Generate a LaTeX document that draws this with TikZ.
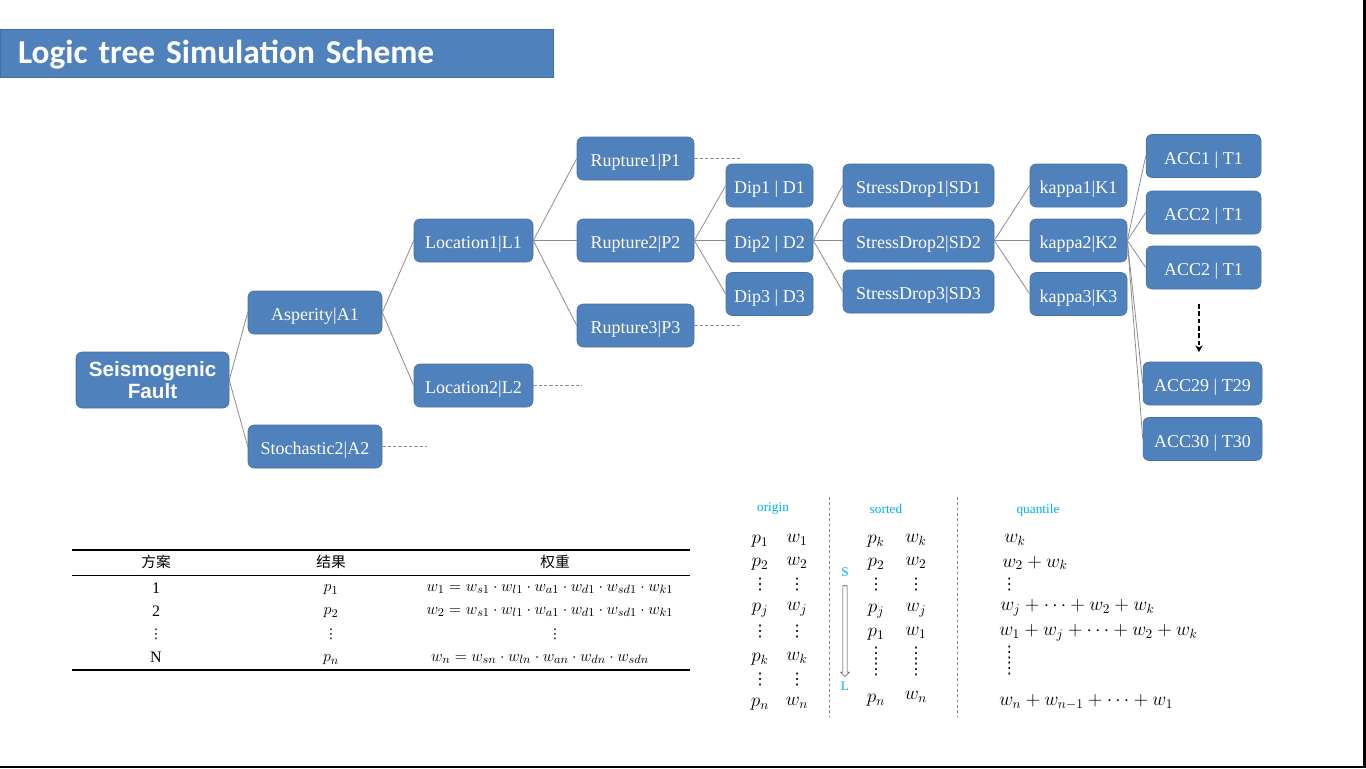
\documentclass[tikz,border=0pt]{standalone}
\usepackage{amsmath}
\usepackage{fontspec}
\setmainfont{Liberation Serif}
\newfontfamily\titlefont{Carlito}
\newfontfamily\rootfont{Liberation Sans}
\newfontfamily\cjk{Noto Sans CJK SC}
\newfontfamily\symfont{DejaVu Sans}
\usetikzlibrary{arrows.meta, positioning, shapes.arrows}
\definecolor{boxblue}{HTML}{4F81BD}
\definecolor{boxline}{HTML}{41719C}
\definecolor{linegray}{HTML}{8C8C8C}
\definecolor{labelblue}{HTML}{00B0F0}

\begin{document}
\begin{tikzpicture}[x=0.75pt,y=-0.75pt,>={Stealth},
        boxbase/.style={draw=boxline,fill=boxblue,rounded corners=4.5pt,text=white,
          font=\fontsize{13.5}{16}\selectfont,minimum height=32.25pt,inner sep=0pt},
        box/.style={boxbase,text height=12.3pt,text depth=0pt},
        branch/.style={draw=linegray,line width=0.6pt},
        stub/.style={draw=linegray,line width=0.6pt,dash pattern=on 2.5pt off 1.5pt},
        cell/.style={font=\fontsize{13}{15}\selectfont,inner sep=0pt},
        entry/.style={font=\fontsize{14}{16}\selectfont,inner sep=0pt},
        vdot/.style={font=\symfont\fontsize{12}{14}\selectfont,inner sep=0pt},
        tag/.style={text=labelblue,font=\fontsize{10}{12}\selectfont,inner sep=0pt},
        sep/.style={draw=gray,line width=0.6pt,dash pattern=on 2pt off 2pt}]

      \useasboundingbox (0,0) rectangle (1366,768);

      \node[draw=boxline,fill=boxblue,minimum width=414.75pt,minimum height=36pt,
            text width=387.75pt,align=left,inner xsep=13.5pt,text=white,
            text height=15pt,text depth=0pt,
            font=\titlefont\bfseries\fontsize{25}{29}\selectfont] (title) at (276.5,53)
            {Logic tree Simulation Scheme};

      \node[boxbase,minimum width=114.75pt,minimum height=42pt,align=center,
            font=\rootfont\bfseries\fontsize{15.5}{16.5}\selectfont] (fault) at (152.5,380) {Seismogenic\\Fault};
      \node[box,minimum width=100.5pt] (a_1) at (315,312.5) {Asperity|A1};
      \node[box,minimum width=100.5pt] (a_2) at (315,446.5) {Stochastic2|A2};
      \node[box,minimum width=89.25pt] (l_1) at (473.5,240.5) {Location1|L1};
      \node[box,minimum width=89.25pt] (l_2) at (473.5,385.5) {Location2|L2};
      \node[box,minimum width=87.75pt] (p_1) at (635.5,158.5) {Rupture1|P1};
      \node[box,minimum width=87.75pt] (p_2) at (635.5,240.5) {Rupture2|P2};
      \node[box,minimum width=87.75pt] (p_3) at (635.5,325.5) {Rupture3|P3};
      \node[box,minimum width=65.25pt] (d_1) at (769.5,185.5) {Dip1 | D1};
      \node[box,minimum width=65.25pt] (d_2) at (769.5,240.5) {Dip2 | D2};
      \node[box,minimum width=65.25pt] (d_3) at (769.5,294) {Dip3 | D3};
      \node[box,minimum width=113.25pt] (sd_1) at (918.5,185.5) {StressDrop1|SD1};
      \node[box,minimum width=113.25pt] (sd_2) at (918.5,240.5) {StressDrop2|SD2};
      \node[box,minimum width=113.25pt] (sd_3) at (918.5,291.5) {StressDrop3|SD3};
      \node[box,minimum width=72.75pt] (k_1) at (1078.5,185.5) {kappa1|K1};
      \node[box,minimum width=72.75pt] (k_2) at (1078.5,240.5) {kappa2|K2};
      \node[box,minimum width=72.75pt] (k_3) at (1078.5,294) {kappa3|K3};
      \node[box,minimum width=86.25pt] (t_1) at (1203.5,156) {ACC1 | T1};
      \node[box,minimum width=86.25pt] (t_2) at (1203.5,212.5) {ACC2 | T1};
      \node[box,minimum width=86.25pt] (t_3) at (1203.5,267.5) {ACC2 | T1};
      \node[box,minimum width=89.25pt] (t_29) at (1202.5,383.5) {ACC29 | T29};
      \node[box,minimum width=89.25pt] (t_30) at (1202.5,439) {ACC30 | T30};

      \path[branch] (fault.east) edge (a_1.west) edge (a_2.west)
                (a_1.east) edge (l_1.west) edge (l_2.west)
                (l_1.east) edge (p_1.west) edge (p_2.west) edge (p_3.west)
                (p_2.east) edge (d_1.west) edge (d_2.west) edge (d_3.west)
                (d_2.east) edge (sd_1.west) edge (sd_2.west) edge (sd_3.west)
                (sd_2.east) edge (k_1.west) edge (k_2.west) edge (k_3.west)
                (k_2.east) edge (t_1.west) edge (t_2.west) edge (t_3.west)
                           edge (t_29.west) edge (t_30.west);

      \draw[stub] (p_1.east) -- +(46,0);
      \draw[stub] (p_3.east) -- +(46,0);
      \draw[stub] (l_2.east) -- +(49,0);
      \draw[stub] (a_2.east) -- +(45,0);

      \coordinate (more_top) at (1199,304);
      \coordinate (more_bot) at (1199,352);
      \draw[line width=1.8pt,dash pattern=on 3.5pt off 2pt,-{Stealth[length=5pt,width=5.5pt]}] (more_top) -- (more_bot);

      \draw[line width=1.1pt] (72,550) -- (690,550);
      \draw[line width=0.6pt] (72,575) -- (690,575);
      \draw[line width=1.1pt] (72,670) -- (690,670);
      \node[cell,font=\cjk\fontsize{11}{13}\selectfont] (h_plan) at (156,562) {方案};
      \node[cell,font=\cjk\fontsize{11}{13}\selectfont] (h_res) at (331,562) {结果};
      \node[cell,font=\cjk\fontsize{11}{13}\selectfont] (h_wt) at (555,562) {权重};
      \node[cell,font=\fontsize{12}{14}\selectfont] (r1_plan) at (156,588) {1};
      \node[cell] (r1_res) at (331,590) {$p_1$};
      \node[cell] (r1_wt) at (550,589) {$w_1 = w_{s1}\cdot w_{l1}\cdot w_{a1}\cdot w_{d1}\cdot w_{sd1}\cdot w_{k1}$};
      \node[cell,font=\fontsize{12}{14}\selectfont] (r2_plan) at (156,611) {2};
      \node[cell] (r2_res) at (331,613) {$p_2$};
      \node[cell] (r2_wt) at (550,612) {$w_2 = w_{s1}\cdot w_{l1}\cdot w_{a1}\cdot w_{d1}\cdot w_{sd1}\cdot w_{k1}$};
      \node[vdot,font=\symfont\fontsize{10}{12}\selectfont] (r3_plan) at (156,634) {⋮};
      \node[vdot,font=\symfont\fontsize{10}{12}\selectfont] (r3_res) at (331,634) {⋮};
      \node[vdot,font=\symfont\fontsize{10}{12}\selectfont] (r3_wt) at (555,634) {⋮};
      \node[cell,font=\fontsize{12}{14}\selectfont] (rn_plan) at (156,657) {N};
      \node[cell] (rn_res) at (331,660) {$p_n$};
      \node[cell] (rn_wt) at (540,659) {$w_n = w_{sn}\cdot w_{ln}\cdot w_{an}\cdot w_{dn}\cdot w_{sdn}$};

      \draw[sep] (829,497) -- (829,716);
      \draw[sep] (957,497) -- (957,716);
      \node[tag] (origin) at (773,509) {origin};
      \node[tag] (sorted) at (886,509) {sorted};
      \node[tag] (quantile) at (1038,510) {quantile};

      \node[entry] (o_p1) at (760,541) {$p_1$};   \node[entry] (o_w1) at (797,540) {$w_1$};
      \node[entry] (o_p2) at (760,564) {$p_2$};   \node[entry] (o_w2) at (797,563) {$w_2$};
      \node[vdot] (o_v1) at (760,585) {⋮}; \node[vdot] (o_v2) at (797,585) {⋮};
      \node[entry] (o_pj) at (760,610) {$p_j$};   \node[entry] (o_wj) at (797,609) {$w_j$};
      \node[vdot] (o_v3) at (760,632) {⋮}; \node[vdot] (o_v4) at (797,632) {⋮};
      \node[entry] (o_pk) at (760,659) {$p_k$};   \node[entry] (o_wk) at (797,658) {$w_k$};
      \node[vdot] (o_v5) at (760,680) {⋮}; \node[vdot] (o_v6) at (797,680) {⋮};
      \node[entry] (o_pn) at (760,704) {$p_n$};   \node[entry] (o_wn) at (797,703) {$w_n$};

      \node[entry] (s_pk) at (876,541) {$p_k$};   \node[entry] (s_wk) at (916,540) {$w_k$};
      \node[entry] (s_p2) at (876,564) {$p_2$};   \node[entry] (s_w2) at (916,563) {$w_2$};
      \node[vdot] (s_v1) at (876,585) {⋮}; \node[vdot] (s_v2) at (916,585) {⋮};
      \node[entry] (s_pj) at (876,611) {$p_j$};   \node[entry] (s_wj) at (916,610) {$w_j$};
      \node[entry] (s_p1) at (876,634) {$p_1$};   \node[entry] (s_w1) at (916,633) {$w_1$};
      \node[vdot] (s_v3) at (876,654) {⋮}; \node[vdot] (s_v4) at (916,654) {⋮};
      \node[vdot] (s_v5) at (876,670) {⋮}; \node[vdot] (s_v6) at (916,670) {⋮};
      \node[entry] (s_pn) at (876,700) {$p_n$};   \node[entry] (s_wn) at (916,697) {$w_n$};

      \node[tag] (small) at (845,572) {S};
      \node[tag] (large) at (845,686) {L};
      \node[draw=gray!60!black,fill=white,single arrow,rotate=-90,minimum height=68pt,
            inner sep=1.4pt,single arrow head extend=1.6pt] (order) at (845,630) {};

      \node[entry,anchor=west] (q_1) at (1004,540) {$w_k$};
      \node[entry,anchor=west] (q_2) at (1002,563) {$w_2 + w_k$};
      \node[vdot,anchor=west] (q_3) at (1001,585) {⋮};
      \node[entry,anchor=west] (q_4) at (1000,608) {$w_j + \cdots + w_2 + w_k$};
      \node[entry,anchor=west] (q_5) at (999,633) {$w_1 + w_j + \cdots + w_2 + w_k$};
      \node[vdot,anchor=west] (q_6) at (1001,653) {⋮};
      \node[vdot,anchor=west] (q_7) at (1001,669) {⋮};
      \node[entry,anchor=west] (q_8) at (999,702) {$w_n + w_{n-1} + \cdots + w_1$};

      \fill[black] (1363,0) rectangle (1366,768);
      \fill[black] (0,766) rectangle (1366,768);
    \end{tikzpicture}
\end{document}
